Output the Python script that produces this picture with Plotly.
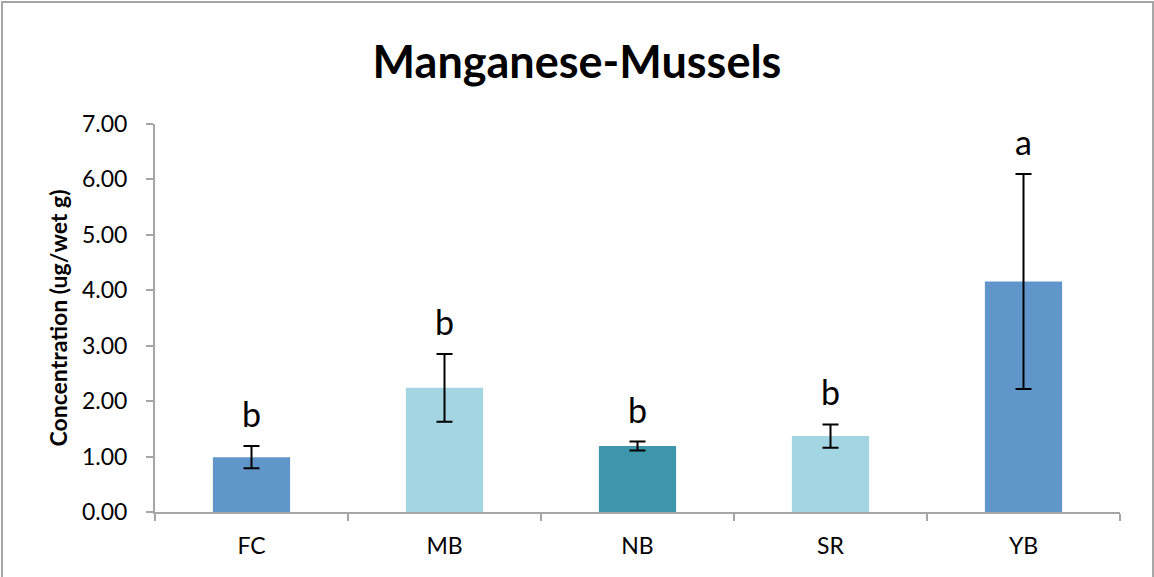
import plotly.graph_objects as go

sites = ["FC", "MB", "NB", "SR", "YB"]
means = [0.99, 2.24, 1.19, 1.37, 4.16]
errors = [0.20, 0.61, 0.08, 0.21, 1.94]
letters = ["b", "b", "b", "b", "a"]
colors = ["#6096C9", "#A3D5E3", "#3D96AB", "#A3D5E3", "#6096C9"]
y_ticks = [0, 1, 2, 3, 4, 5, 6, 7]

FONT = "Lato"

fig = go.Figure()
fig.add_trace(go.Bar(
    x=sites, y=means,
    marker=dict(color=colors, line=dict(width=0)),
    error_y=dict(type="data", array=errors, visible=True,
                 color="black", thickness=2, width=8),
    showlegend=False, hoverinfo="skip",
))

for s, m, e, l in zip(sites, means, errors, letters):
    fig.add_annotation(x=s, y=m + e, text=l, showarrow=False,
                       yanchor="bottom", yshift=10,
                       font=dict(family=FONT, size=34, color="black"))

fig.update_layout(
    width=1154, height=577,
    margin=dict(l=155, r=34, t=124, b=65),
    paper_bgcolor="white", plot_bgcolor="white",
    bargap=0.6,
    title=dict(text="<b>Manganese-Mussels</b>", x=0.5, xref="container",
               xanchor="center", y=1 - 62 / 577, yref="container",
               yanchor="middle",
               font=dict(family=FONT, size=45, color="black")),
    font=dict(family=FONT, color="black"),
)

fig.update_xaxes(
    showline=True, linecolor="#A6A6A6", linewidth=2,
    ticks="outside", tickson="boundaries", ticklen=7, tickcolor="#A6A6A6",
    tickwidth=2, ticklabelstandoff=12,
    tickfont=dict(family=FONT, size=23, color="black"),
    showgrid=False, zeroline=False,
)
fig.update_yaxes(
    range=[0, 7], tickvals=y_ticks, tickformat=".2f",
    showline=True, linecolor="#A6A6A6", linewidth=2,
    ticks="outside", ticklen=7, tickcolor="#A6A6A6", tickwidth=2,
    ticklabelstandoff=14,
    tickfont=dict(family=FONT, size=23, color="black"),
    showgrid=False, zeroline=False,
    title=dict(text="<b>Concentration (ug/wet g)</b>", standoff=8,
               font=dict(family=FONT, size=23, color="black")),
)

# outer chart frame
fig.add_shape(type="rect", xref="paper", yref="paper",
              x0=(2 - 155) / 965, x1=(1153 - 155) / 965,
              y0=(512 - 600) / 388, y1=(512 - 2) / 388,
              line=dict(color="#A6A6A6", width=2), fillcolor="rgba(0,0,0,0)",
              layer="below")

fig.write_html("out.html",
               config={"displayModeBar": False},
               post_script="document.body.style.margin='0';"
                           "document.body.style.overflow='hidden';")
